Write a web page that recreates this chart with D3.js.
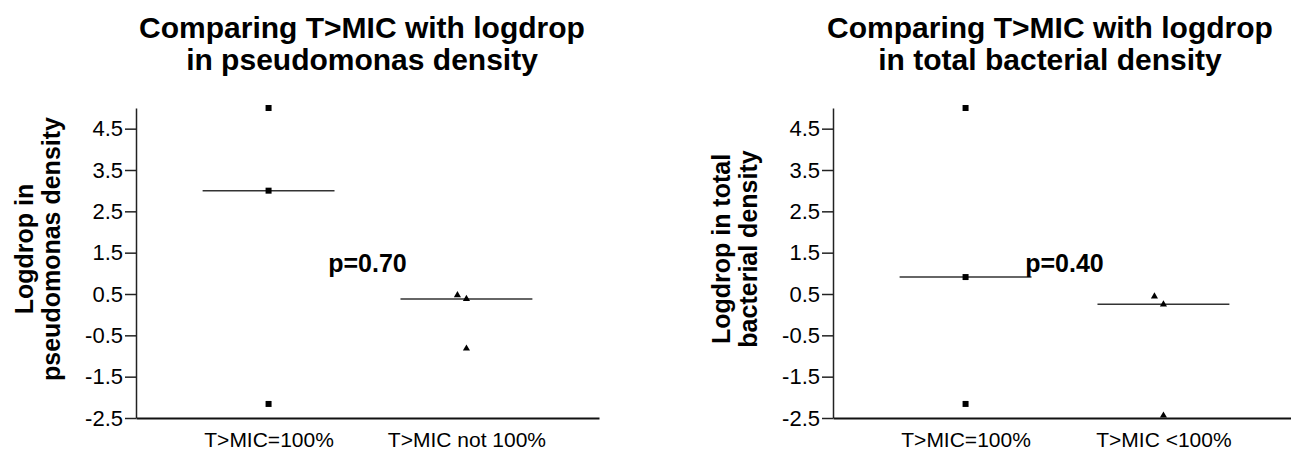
<!DOCTYPE html>
<html>
<head>
<meta charset="utf-8">
<script src="https://cdn.jsdelivr.net/npm/d3@7"></script>
<style>
  body { margin: 0; background: #fff; }
  text { font-family: "Liberation Sans", Arial, sans-serif; fill: #000; }
</style>
</head>
<body>
<div id="chart"></div>
<script>
// values
const groupsPseudo = ['T>MIC=100%', 'T>MIC not 100%'];
const groupsTotal = ['T>MIC=100%', 'T>MIC <100%'];
const pseudoFull = [5.0, 3.0, -2.16];
const pseudoPartial = [0.47, 0.38, -0.82];
const totalFull = [5.0, 0.91, -2.16];
const totalPartial = [0.44, 0.25, -2.44];
const partialDodge = [-1, 0, 0];
const yTicks = [-2.5, -1.5, -0.5, 0.5, 1.5, 2.5, 3.5, 4.5];
const yDomain = [-2.5, 5.0];

const width = 1291;
const height = 452;

const svg = d3.select('#chart')
  .append('svg')
  .attr('width', width)
  .attr('height', height);

const y = d3.scaleLinear()
  .domain(yDomain)
  .range([418, 108]);

function panel(opt) {
  const x = d3.scalePoint()
    .domain(opt.groups)
    .range([opt.x0, opt.x0 + 463])
    .padding(0.67);
  const step = x.step();

  const g = svg.append('g');

  // title
  g.append('text')
    .attr('x', opt.titleX)
    .attr('text-anchor', 'middle')
    .style('font-size', '30px')
    .style('font-weight', 'bold')
    .selectAll('tspan')
    .data(opt.title)
    .enter()
    .append('tspan')
    .attr('x', opt.titleX)
    .attr('y', (d, i) => 38 + i * 32)
    .text(d => d);

  // y axis
  const yAxis = g.append('g')
    .attr('transform', `translate(${opt.x0},0)`)
    .call(d3.axisLeft(y).tickValues(yTicks).tickSize(11).tickSizeOuter(0).tickPadding(2)
      .tickFormat(d => d.toFixed(1)));
  yAxis.select('.domain').attr('stroke', '#222').attr('stroke-width', 1.5);
  yAxis.selectAll('.tick line').attr('stroke', '#222').attr('stroke-width', 1.5);
  yAxis.selectAll('.tick text').style('font-size', '22px').attr('fill', '#111');

  // x axis
  const xAxis = g.append('g')
    .attr('transform', `translate(0,${y(yDomain[0])})`)
    .call(d3.axisBottom(x).tickSize(0).tickPadding(14));
  xAxis.select('.domain').attr('stroke', '#111').attr('stroke-width', 2);
  xAxis.selectAll('.tick text').style('font-size', '21px').attr('fill', '#111');

  // y label (two lines)
  opt.ylabel.forEach((line, i) => {
    g.append('text')
      .attr('transform', `translate(${opt.x0 - 103 + i * 27},249) rotate(-90)`)
      .attr('text-anchor', 'middle')
      .style('font-size', '25px')
      .style('font-weight', 'bold')
      .text(line);
  });

  // median lines
  const groups = [opt.full, opt.partial];
  g.selectAll('.median')
    .data(groups)
    .enter()
    .append('line')
    .attr('x1', (d, i) => x(opt.groups[i]) - step / 3)
    .attr('x2', (d, i) => x(opt.groups[i]) + step / 3)
    .attr('y1', d => y(d3.median(d)))
    .attr('y2', d => y(d3.median(d)))
    .attr('stroke', '#333')
    .attr('stroke-width', 1.5);

  // points
  g.selectAll('.sq')
    .data(opt.full)
    .enter()
    .append('path')
    .attr('d', d3.symbol(d3.symbolSquare, 36))
    .attr('transform', d => `translate(${x(opt.groups[0])},${y(d)})`)
    .attr('fill', '#000');

  g.selectAll('.tri')
    .data(opt.partial)
    .enter()
    .append('path')
    .attr('d', d3.symbol(d3.symbolTriangle, 22))
    .attr('transform', (d, i) => `translate(${x(opt.groups[1]) + partialDodge[i] * 9},${y(d)})`)
    .attr('fill', '#000');

  // p value
  g.append('text')
    .attr('x', (x(opt.groups[0]) + x(opt.groups[1])) / 2)
    .attr('y', 272)
    .attr('text-anchor', 'middle')
    .style('font-size', '25px')
    .style('font-weight', 'bold')
    .text(opt.p);
}

panel({
  x0: 136,
  titleX: 362,
  title: ['Comparing T>MIC with logdrop', 'in pseudomonas density'],
  ylabel: ['Logdrop in', 'pseudomonas density'],
  groups: groupsPseudo,
  full: pseudoFull,
  partial: pseudoPartial,
  p: 'p=0.70'
});

panel({
  x0: 833,
  titleX: 1050,
  title: ['Comparing T>MIC with logdrop', 'in total bacterial density'],
  ylabel: ['Logdrop in total', 'bacterial density'],
  groups: groupsTotal,
  full: totalFull,
  partial: totalPartial,
  p: 'p=0.40'
});
</script>
</body>
</html>
